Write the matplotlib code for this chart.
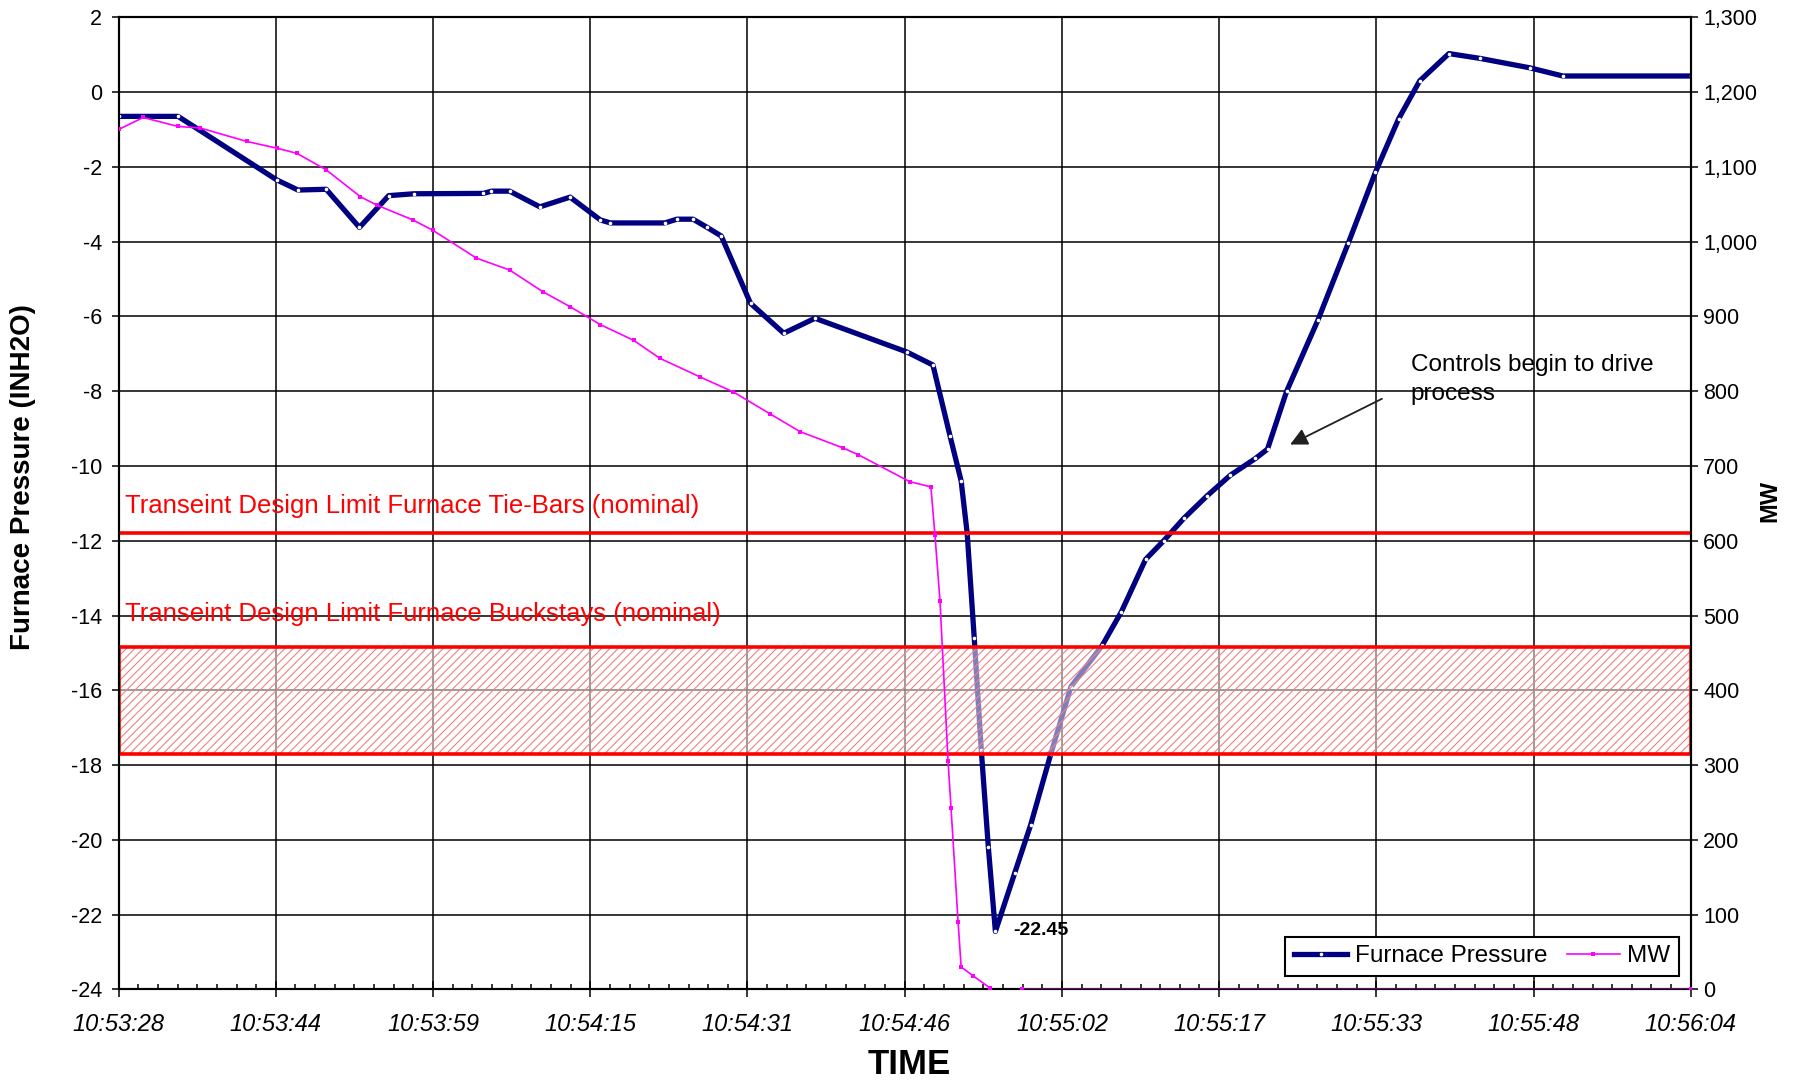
import numpy as np
import matplotlib
matplotlib.use("Agg")
import matplotlib.pyplot as plt
from matplotlib.ticker import FixedLocator, MultipleLocator, FuncFormatter

plt.rcParams['font.family'] = ['Liberation Sans', 'DejaVu Sans']
plt.rcParams['hatch.linewidth'] = 0.8
plt.rcParams['axes.unicode_minus'] = False

# ----- data (seconds from 10:53:28) -----
t_press = [0, 5.9, 15.7, 17.8, 20.6, 23.9, 26.8, 29.3, 36.2, 37.0, 38.8, 41.8, 44.8,
           47.8, 48.8, 54.2, 55.4, 57.0, 58.4, 59.8, 62.7, 66.0, 69.1, 78.2, 80.8,
           82.5, 83.6, 84.2, 84.9, 85.6, 86.3, 87.0, 88.9, 90.5, 92.5, 94.5, 97.6,
           99.5, 101.9, 103.7, 105.7, 108.0, 110.3, 112.8, 114.0, 115.9, 119.0,
           122.0, 124.7, 127.0, 129.1, 132.0, 135.1, 140.0, 143.3, 156.0]
pressure = [-0.65, -0.65, -2.35, -2.62, -2.6, -3.62, -2.77, -2.72, -2.71, -2.65, -2.65,
            -3.07, -2.81, -3.42, -3.5, -3.5, -3.4, -3.4, -3.62, -3.85, -5.65, -6.45,
            -6.05, -6.95, -7.3, -9.2, -10.4, -11.8, -14.6, -17.6, -20.2, -22.45, -20.9,
            -19.6, -17.7, -15.9, -14.8, -13.9, -12.5, -12.0, -11.4, -10.8, -10.25, -9.8,
            -9.55, -8.0, -6.1, -4.05, -2.15, -0.72, 0.3, 1.03, 0.9, 0.65, 0.43, 0.43]

t_mw = [0, 2.45, 5.9, 8.1, 12.7, 15.7, 17.7, 20.6, 24.0, 25.6, 29.2, 31.2, 35.5, 38.8,
        42.1, 44.8, 47.8, 51.1, 53.7, 57.7, 61.0, 64.6, 67.6, 71.9, 73.4, 78.5, 80.6,
        81.0, 81.5, 82.3, 82.6, 83.3, 83.6, 84.8, 86.5, 88.0, 89.6, 156.0]
mw = [1150, 1166, 1154, 1152, 1134, 1125, 1118, 1096, 1060, 1049, 1029, 1015, 978, 962,
      933, 913, 889, 868, 844, 819, 799, 770, 746, 724, 715, 679, 672,
      608, 520, 306, 242, 90, 30, 18, 1.5, np.nan, 0, 0]

tick_pos = [0, 15.6, 31.2, 46.8, 62.4, 78.0, 93.6, 109.2, 124.8, 140.4, 156.0]
tick_labels = ['10:53:28', '10:53:44', '10:53:59', '10:54:15', '10:54:31', '10:54:46',
               '10:55:02', '10:55:17', '10:55:33', '10:55:48', '10:56:04']

tiebar_limit = -11.8
buckstay_band = (-17.7, -14.85)

# ----- figure -----
fig = plt.figure(figsize=(18.06, 10.81), dpi=100)
ax = fig.add_axes([0.06567, 0.08474, 0.87054, 0.89926])
ax2 = ax.twinx()

ax.plot(t_press, pressure, color='#000080', lw=3.8, marker='o', markersize=1.6,
        markerfacecolor='white', markeredgecolor='white', zorder=3,
        label='Furnace Pressure')
ax2.plot(t_mw, mw, color='#FF00FF', lw=1.2, marker='s', markersize=2.2,
         markeredgewidth=0, zorder=3, label='MW')

# limit lines and hatched band
ax.axhline(tiebar_limit, color='#FF0000', lw=2.6, zorder=6)
ax.axhspan(buckstay_band[0], buckstay_band[1], facecolor=(1, 1, 1, 0.5),
           edgecolor='#F08080', hatch='////', lw=0, zorder=5)
ax.axhspan(buckstay_band[0], buckstay_band[1], fill=False, edgecolor='#FF0000',
           lw=2.6, zorder=6)

ax.text(0.6, -11.27, 'Transeint Design Limit Furnace Tie-Bars (nominal)',
        color='#FF0000', fontsize=18.5, va='baseline', ha='left', zorder=7)
ax.text(0.6, -14.16, 'Transeint Design Limit Furnace Buckstays (nominal)',
        color='#FF0000', fontsize=18.5, va='baseline', ha='left', zorder=7)

ax.text(88.8, -22.43, '-22.45', fontsize=14, fontweight='bold', va='center', zorder=7)

ax.annotate('', xy=(116.0, -9.46), xytext=(125.6, -8.17),
            arrowprops=dict(arrowstyle='-|>', color='#202020', lw=1.3,
                            mutation_scale=26), zorder=7)
ax.text(128.2, -7.0, 'Controls begin to drive\nprocess', fontsize=17.5,
        va='top', ha='left', linespacing=1.4, zorder=7)

# ----- axes -----
ax.set_xlim(0, 156)
ax.set_ylim(-24, 2)
ax.set_yticks(np.arange(-24, 3, 2))
ax.xaxis.set_major_locator(FixedLocator(tick_pos))
ax.xaxis.set_minor_locator(MultipleLocator(15.6 / 8))
ax.set_xticklabels(tick_labels, fontstyle='italic', fontsize=17)
ax.grid(True, which='major', color='black', lw=1.1)
ax.set_axisbelow(True)

ax.tick_params(axis='y', direction='out', length=5, width=1.1, pad=7, labelsize=15.5)
ax.tick_params(axis='x', which='major', direction='inout', length=12, width=1.1, pad=11)
ax.tick_params(axis='x', which='minor', direction='in', length=3.5, width=1.1)

ax2.set_ylim(0, 1300)
ax2.set_yticks(np.arange(0, 1301, 100))
ax2.yaxis.set_major_formatter(FuncFormatter(lambda v, p: f'{int(v):,}'))
ax2.tick_params(axis='y', direction='out', length=5, width=1.1, pad=4, labelsize=15.5)

for a in (ax, ax2):
    for s in a.spines.values():
        s.set_color('black')
        s.set_linewidth(1.5)

ax.text(-0.061, 0.527, 'Furnace Pressure (INH2O)', transform=ax.transAxes,
        rotation=90, fontsize=20, fontweight='bold', ha='center', va='center')
ax.text(1.0505, 0.502, 'MW', transform=ax.transAxes, rotation=90,
        fontsize=17, fontweight='bold', ha='center', va='center')
ax.text(0.503, -0.0775, 'TIME', transform=ax.transAxes, fontsize=25,
        fontweight='bold', ha='center', va='center')

h1, l1 = ax.get_legend_handles_labels()
h2, l2 = ax2.get_legend_handles_labels()
leg = ax2.legend(h1 + h2, l1 + l2, loc='lower right', bbox_to_anchor=(0.9925, 0.0142),
                 borderaxespad=0, ncol=2, fontsize=17.5, frameon=True, fancybox=False,
                 edgecolor='black', framealpha=1, handlelength=2.2,
                 columnspacing=0.8, handletextpad=0.3, borderpad=0.35)
leg.get_frame().set_linewidth(1.5)

fig.savefig('out.png', dpi=100)
